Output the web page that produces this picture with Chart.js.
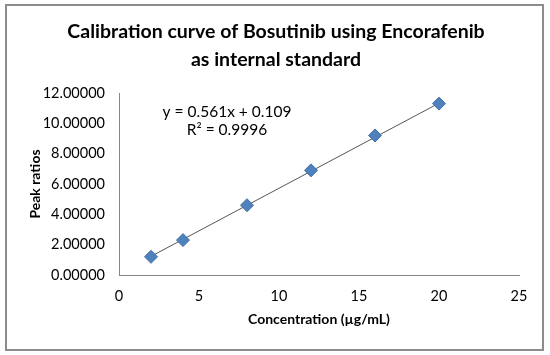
<!DOCTYPE html>
<html>
<head>
<meta charset="utf-8">
<script src="https://cdn.jsdelivr.net/npm/chart.js@4.4.1/dist/chart.umd.min.js"></script>
<style>
  body { margin: 0; background: #fff; }
  #wrap { position: relative; width: 550px; height: 355px; }
  #frame { position: absolute; left: 5px; top: 4px; width: 535px; height: 343px; border: 2px solid #8c8c8c; pointer-events: none; }
  canvas { position: absolute; left: 0; top: 0; }
</style>
</head>
<body>
<div id="wrap">
  <canvas id="calChart" width="550" height="355"></canvas>
  <div id="frame"></div>
</div>
<script>
var concentrations = [2, 4, 8, 12, 16, 20];
var peakRatios = [1.20, 2.30, 4.60, 6.90, 9.20, 11.30];
var trendX = [2, 20];
var trendY = [1.23, 11.33];
var xTicks = [0, 5, 10, 15, 20, 25];
var yTicks = [0, 2, 4, 6, 8, 10, 12];
var titleLines = ["Calibration curve of Bosutinib using Encorafenib", "as internal standard"];
var equationLines = ["y = 0.561x + 0.109", "R\u00b2 = 0.9996"];

var font = "Lato";

// title centred on the whole picture, plus the trendline equation
var textPlugin = {
    id: 'texts',
    afterDatasetsDraw: function (chart) {
        var ctx = chart.ctx;
        ctx.save();
        ctx.fillStyle = "#000";
        ctx.textAlign = "center";
        ctx.textBaseline = "middle";
        ctx.font = "bold 19.5px " + font;
        ctx.fillText(titleLines[0], 276, 32);
        ctx.fillText(titleLines[1], 276, 60);

        var x = chart.scales.x.getPixelForValue(6.75);
        ctx.font = "15.5px " + font;
        ctx.fillText(equationLines[0], x, chart.scales.y.getPixelForValue(10.75));
        ctx.fillText(equationLines[1], x, chart.scales.y.getPixelForValue(9.57));
        ctx.restore();
    }
};

var ctx = document.getElementById("calChart").getContext('2d');
var calChart = new Chart(ctx, {
    type: 'scatter',
    data: {
        datasets: [{
            label: "Peak ratios",
            data: concentrations.map(function (c, i) { return { x: c, y: peakRatios[i] }; }),
            pointStyle: 'rectRot',
            pointRadius: 6.5,
            backgroundColor: '#4F81BD',
            borderColor: '#3f6fa8',
            borderWidth: 1,
            order: 1
        }, {
            label: "Linear fit",
            type: 'line',
            data: trendX.map(function (c, i) { return { x: c, y: trendY[i] }; }),
            borderColor: '#555555',
            borderWidth: 1,
            pointRadius: 0,
            fill: false,
            order: 2
        }]
    },
    options: {
        responsive: false,
        animation: false,
        layout: { padding: { left: 5, right: 31, top: 93, bottom: 0 } },
        plugins: {
            legend: { display: false },
            tooltip: { enabled: false },
            title: { display: false }
        },
        scales: {
            x: {
                type: 'linear',
                min: 0,
                max: 25,
                afterFit: function (scale) { scale.height = 80; },
                afterBuildTicks: function (scale) { scale.ticks = xTicks.map(function (v) { return { value: v }; }); },
                grid: { display: false, drawTicks: false },
                border: { color: '#868686', width: 1 },
                ticks: { color: '#000', font: { family: font, size: 14.5 }, padding: 13 },
                title: {
                    display: true,
                    text: "Concentration (\u00b5g/mL)",
                    color: '#000',
                    font: { family: font, size: 14, weight: 'bold' },
                    padding: { top: 0, bottom: 27 }
                }
            },
            y: {
                type: 'linear',
                min: 0,
                max: 12,
                afterFit: function (scale) { scale.width = 114; },
                afterBuildTicks: function (scale) { scale.ticks = yTicks.map(function (v) { return { value: v }; }); },
                grid: { display: false, drawTicks: false },
                border: { color: '#868686', width: 1 },
                ticks: {
                    color: '#000',
                    font: { family: font, size: 14.5 },
                    padding: 14,
                    callback: function (v) { return v.toFixed(5); }
                },
                title: {
                    display: true,
                    text: "Peak ratios",
                    color: '#000',
                    font: { family: font, size: 14, weight: 'bold' },
                    padding: { top: 22, bottom: 0 }
                }
            }
        }
    },
    plugins: [textPlugin]
});
</script>
</body>
</html>
